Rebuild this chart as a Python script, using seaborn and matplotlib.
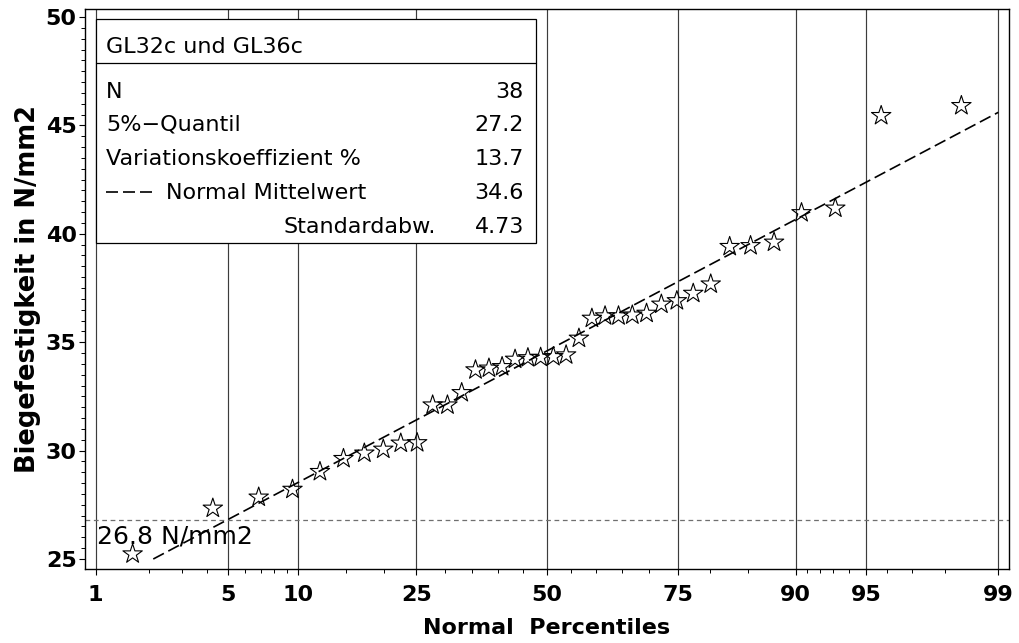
import numpy as np
import matplotlib
matplotlib.use("Agg")
import matplotlib.pyplot as plt
from matplotlib.patches import Rectangle
from matplotlib.lines import Line2D
from matplotlib.ticker import FixedLocator, FixedFormatter, MultipleLocator
from statistics import NormalDist
import seaborn as sns

# Bending strength values (N/mm2), sorted
strength = [25.23, 27.34, 27.85, 28.21, 29.03, 29.63, 29.88, 30.06, 30.34, 30.36,
            32.10, 32.10, 32.67, 33.72, 33.80, 33.87, 34.21, 34.28, 34.30, 34.33,
            34.41, 35.18, 36.10, 36.21, 36.21, 36.25, 36.33, 36.75, 36.91, 37.25,
            37.68, 39.41, 39.45, 39.61, 40.97, 41.18, 45.45, 45.91]

# Summary statistics shown in the inset table
group_label = "GL32c und GL36c"
stat_names = ["N", "5%\u2212Quantil", "Variationskoeffizient %"]
stat_values = ["38", "27.2", "13.7"]
fit_mean = 34.6
fit_sd = 4.73
char_value = 26.8            # characteristic strength line
char_label = "26.8 N/mm2"

# Axis ticks
pct_ticks = [1, 5, 10, 25, 50, 75, 90, 95, 99]
pct_minor = [2, 3, 4, 6, 7, 8, 9, 15, 20, 30, 35, 40, 45, 55, 60, 65, 70,
             80, 85, 91, 92, 93, 94, 96, 97, 98]
y_ticks = [25, 30, 35, 40, 45, 50]

_nd = NormalDist()


def pct_to_z(p):
    p = np.clip(np.asarray(p, dtype=float) / 100.0, 1e-9, 1 - 1e-9)
    return np.vectorize(_nd.inv_cdf, otypes=[float])(p)


def z_to_pct(z):
    z = np.asarray(z, dtype=float)
    return np.vectorize(_nd.cdf, otypes=[float])(z) * 100.0


# Blom plotting positions in percent
n = len(strength)
ranks = np.arange(1, n + 1)
plot_pct = (ranks - 0.375) / (n + 0.25) * 100.0

sns.set_style("ticks")
plt.rcParams["font.family"] = ["DejaVu Sans"]
plt.rcParams.update({
    "axes.linewidth": 1.0,
    "text.color": "black",
    "axes.labelcolor": "black",
    "xtick.color": "black",
    "ytick.color": "black",
    "axes.edgecolor": "black",
})

fig = plt.figure(figsize=(10.19, 6.43), dpi=100)
ax = fig.add_axes([0.0834, 0.1146, 0.9068, 0.8714])
ax.set_xscale("function", functions=(pct_to_z, z_to_pct))

# Fitted normal line, clipped to y >= 25 and the 99th percentile
p_lo = float(z_to_pct((25.0 - fit_mean) / fit_sd))
p_hi = 99.0
y_hi = fit_mean + fit_sd * float(pct_to_z(p_hi))
sns.lineplot(x=[p_lo, p_hi], y=[25.0, y_hi], ax=ax, color="black",
             linewidth=1.2, linestyle=(0, (7.2, 3.0)), zorder=3)

# Observations
sns.scatterplot(x=plot_pct, y=strength, ax=ax, marker="*", s=215,
                color="white", edgecolor="black", linewidth=0.8, zorder=4)
ax.collections[-1].set_facecolor("none")

# Characteristic value reference line
ax.axhline(char_value, color="#6f6f6f", linewidth=0.9,
           linestyle=(0, (3.8, 2.9)), zorder=2)
ax.text(1.02, 25.72, char_label, fontsize=18, color="black",
        ha="left", va="baseline", zorder=6)

ax.set_xlim(0.862, 99.138)
ax.set_ylim(24.525, 50.37)

ax.xaxis.set_major_locator(FixedLocator(pct_ticks))
ax.xaxis.set_major_formatter(FixedFormatter([str(p) for p in pct_ticks]))
ax.xaxis.set_minor_locator(FixedLocator(pct_minor))
ax.yaxis.set_major_locator(FixedLocator(y_ticks))
ax.yaxis.set_minor_locator(MultipleLocator(0.5))

ax.grid(False)
ax.xaxis.grid(True, which="major", color="#3c3c3c", linewidth=0.85)

ax.tick_params(axis="both", which="major", direction="out", length=4.5,
               width=0.8, color="black", labelcolor="black", labelsize=16,
               pad=1.5)
ax.tick_params(axis="both", which="minor", direction="out", length=2.8,
               width=0.7, color="black")
ax.tick_params(axis="x", which="major", pad=7)
for lab in ax.get_xticklabels() + ax.get_yticklabels():
    lab.set_fontweight("bold")

for sp in ax.spines.values():
    sp.set_visible(True)
    sp.set_color("black")
    sp.set_linewidth(1.0)

ax.set_xlabel("Normal  Percentiles", fontsize=16, fontweight="bold",
              labelpad=9, color="black")
ax.set_ylabel("Biegefestigkeit in N/mm2", fontsize=18.5, fontweight="bold",
              labelpad=3, color="black")

# Inset statistics table
bx0, bx1, by0, by1, bsep = 0.0119, 0.4881, 0.5824, 0.9813, 0.9036
ax.add_patch(Rectangle((bx0, by0), bx1 - bx0, by1 - by0, transform=ax.transAxes,
                       facecolor="white", edgecolor="black", linewidth=0.9,
                       zorder=5))
ax.add_line(Line2D([bx0, bx1], [bsep, bsep], transform=ax.transAxes,
                   color="black", linewidth=0.9, zorder=6))

tx_l, tx_r = 0.0227, 0.4751
fs = 16
ax.text(tx_l, 0.9209, group_label, transform=ax.transAxes, fontsize=fs,
        ha="left", va="baseline", zorder=7)
row_y = [0.8406, 0.7823, 0.7207]
for name, val, yy in zip(stat_names, stat_values, row_y):
    ax.text(tx_l, yy, name, transform=ax.transAxes, fontsize=fs,
            ha="left", va="baseline", zorder=7)
    ax.text(tx_r, yy, val, transform=ax.transAxes, fontsize=fs,
            ha="right", va="baseline", zorder=7)

ax.add_line(Line2D([tx_l, 0.0768], [0.6739, 0.6739], transform=ax.transAxes,
                   color="black", linewidth=1.2, linestyle=(0, (7.2, 3.0)),
                   zorder=7))
ax.text(0.0877, 0.6604, "Normal Mittelwert", transform=ax.transAxes,
        fontsize=fs, ha="left", va="baseline", zorder=7)
ax.text(tx_r, 0.6604, f"{fit_mean:.1f}", transform=ax.transAxes, fontsize=fs,
        ha="right", va="baseline", zorder=7)
ax.text(0.3799, 0.6011, "Standardabw.", transform=ax.transAxes, fontsize=fs,
        ha="right", va="baseline", zorder=7)
ax.text(tx_r, 0.6011, f"{fit_sd:.2f}", transform=ax.transAxes, fontsize=fs,
        ha="right", va="baseline", zorder=7)

fig.savefig("out.png", dpi=100, facecolor="white")
